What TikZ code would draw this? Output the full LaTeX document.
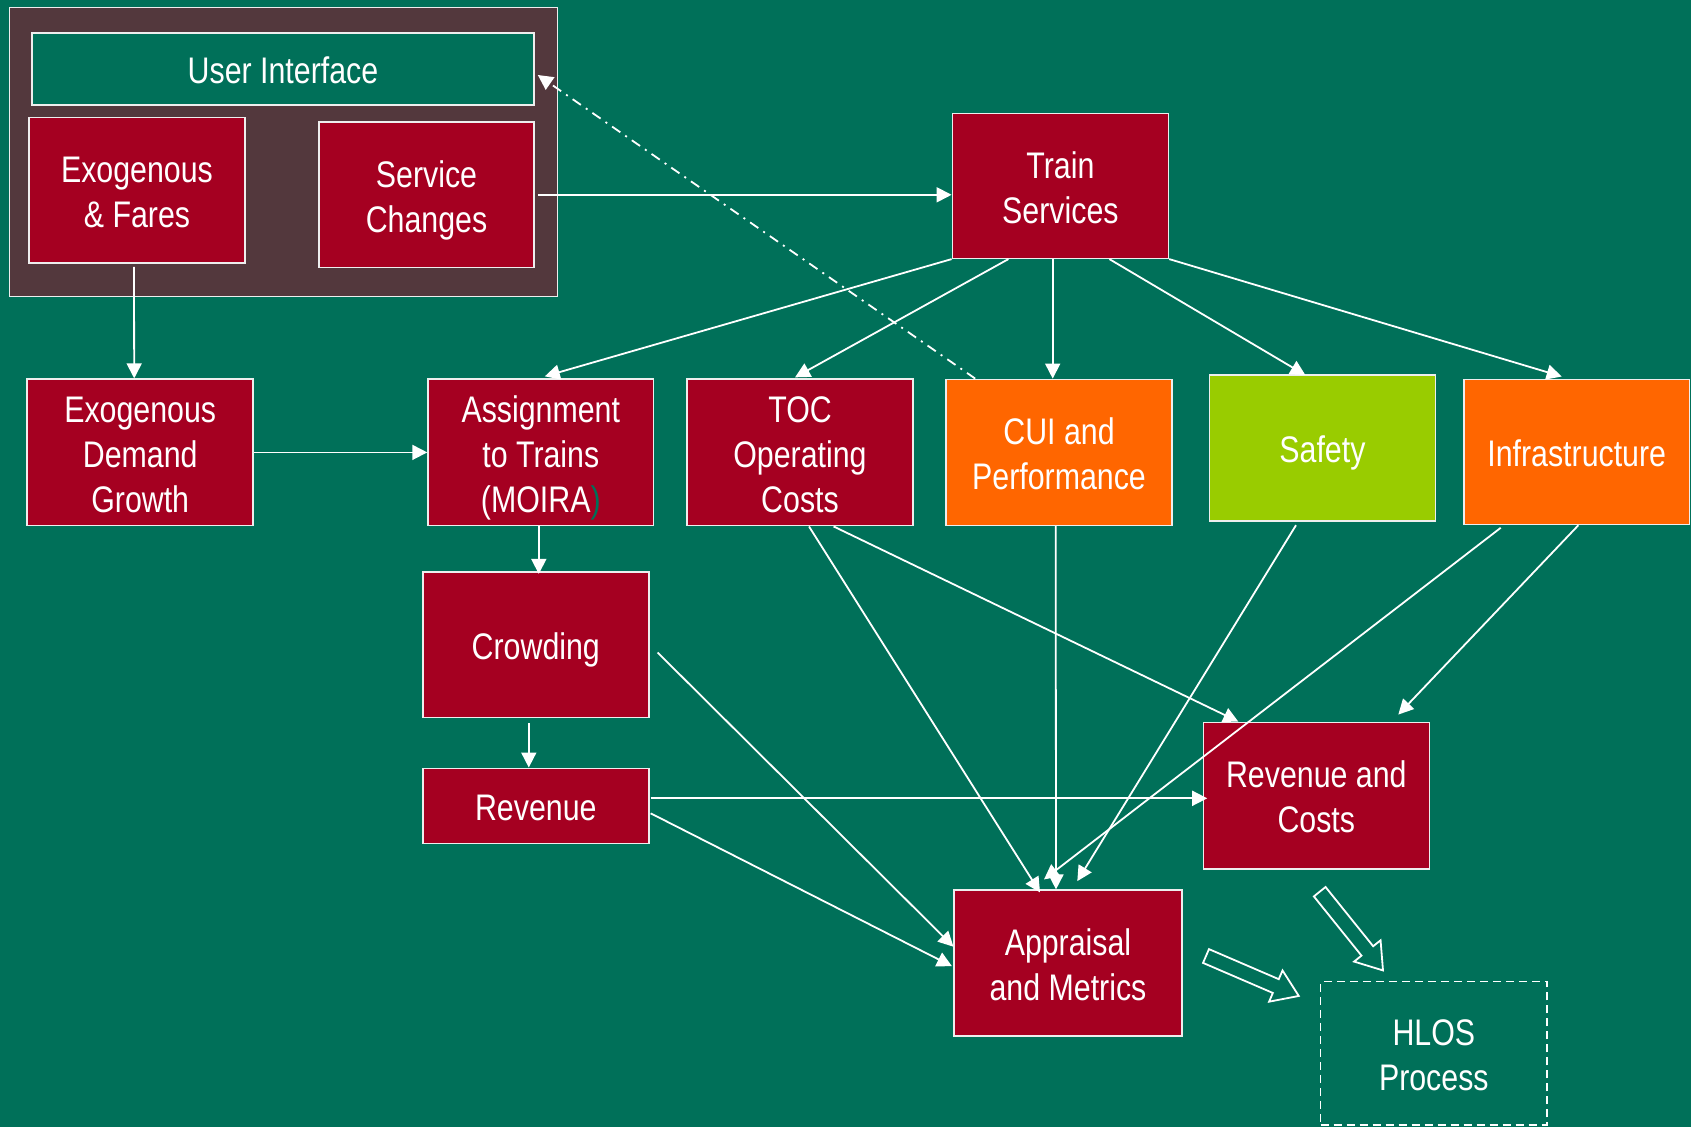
\documentclass[tikz,border=0pt]{standalone}
\usepackage{fontspec}
\setmainfont{Liberation Sans}[FakeStretch=0.82]
\usetikzlibrary{arrows.meta,calc}
\definecolor{bg}{RGB}{0,112,89}
\definecolor{boxred}{RGB}{165,0,33}
\definecolor{panel}{RGB}{83,56,61}
\definecolor{orangebox}{RGB}{255,102,0}
\definecolor{greenbox}{RGB}{153,204,0}
\definecolor{edge}{RGB}{238,238,238}
\newcommand{\bt}[1]{\raisebox{0pt}[\dimexpr\height+11.5pt\relax][\depth]{\begin{tabular}{@{}c@{}}#1\end{tabular}}}
\begin{document}
\begin{tikzpicture}[x=1pt,y=-1pt,
  blk/.style={draw=edge, line width=1.6pt, inner sep=0pt, text=white,
    font=\fontsize{37}{45}\selectfont, minimum width=226pt, minimum height=146pt},
  redbox/.style={blk, fill=boxred},
  conn/.style={draw=white, line width=1.8pt, -{Triangle[length=15pt,width=15pt]}},
  blockarrow/.style={draw=white, line width=1.8pt, line join=miter}
]
\useasboundingbox[fill=bg] (0,0) rectangle (1691,1127);

% outer panel
\node[draw=edge, line width=1.6pt, fill=panel, minimum width=548pt, minimum height=289pt, inner sep=0pt] (panel) at (283.4,152) {};

\node[blk, fill=bg, minimum width=502pt, minimum height=72pt] (UI) at (283,69) {\bt{User Interface}};
\node[redbox, minimum width=216pt, minimum height=145.5pt] (EF) at (137,190.3) {\bt{Exogenous\\\& Fares}};
\node[redbox, minimum width=215pt, minimum height=145.5pt] (SC) at (426.5,194.8) {\bt{Service\\Changes}};
\node[redbox, minimum width=216pt, minimum height=145pt] (TS) at (1060.4,185.8) {\bt{Train\\Services}};

\node[redbox] (ED) at (140.2,452.4) {\bt{Exogenous\\Demand\\Growth}};
\node[redbox, minimum width=225.5pt] (Asg) at (540.8,452.4) {\bt{Assignment\\to Trains\\(MOIRA\textcolor{bg}{)}}};
\node[redbox] (TOC) at (800,452.4) {\bt{TOC\\Operating\\Costs}};
\node[blk, fill=orangebox] (CUI) at (1059,452.4) {\bt{CUI and\\Performance}};
\node[blk, fill=greenbox] (Saf) at (1322.4,447.9) {\bt{Safety}};
\node[blk, fill=orangebox, minimum width=225.3pt, minimum height=145.2pt] (Inf) at (1576.7,451.9) {\bt{Infrastructure}};

\node[redbox, minimum height=145.6pt] (Crowd) at (535.8,644.5) {\bt{Crowding}};
\node[redbox, minimum height=75pt] (Rev) at (535.8,805.8) {\bt{Revenue}};
\node[redbox, minimum height=146.7pt] (RC) at (1316.3,795.7) {\bt{Revenue and\\Costs}};
\node[redbox, minimum width=227.5pt] (Appr) at (1068,963.2) {\bt{Appraisal\\and Metrics}};
\node[blk, draw=white, dash pattern=on 8pt off 5pt, minimum width=226.3pt, minimum height=143.3pt] (HLOS) at (1433.8,1053.3) {\bt{HLOS\\Process}};

% connectors
\draw[conn] ($(EF.south)+(-3,3)$) -- ($(ED.north)+(-6,0)$);
\draw[conn] ($(SC.east)+(3,0)$) -- (SC.east -| TS.west);
\draw[conn] (ED.east) -- (Asg.west);
\draw[conn] (TS.south west) -- ($(Asg.north)+(4,-2)$);
\draw[conn] ($(TS.south)+(-52,0)$) -- ($(TOC.north)+(-5,-1)$);
\draw[conn] ($(TS.south)+(-7.7,0)$) -- ($(CUI.north)+(-6.3,0)$);
\draw[conn] ($(TS.south)+(49,0)$) -- ($(Saf.north)+(-17,1)$);
\draw[conn] (TS.south east) -- ($(Inf.north)+(-15,-2)$);
\draw[conn, dash pattern=on 10pt off 6pt on 2pt off 6pt] ($(CUI.north west)+(30,0)$) -- ($(UI.east)+(3,6)$);

\draw[conn] ($(Asg.south)+(-2,0)$) -- ($(Crowd.north)+(3,3)$);
\draw[conn] ($(Crowd.south)+(-7,5)$) -- ($(Rev.north)+(-7,0)$);
\draw[conn] ($(Crowd.east)+(8,8)$) -- ($(Appr.west)+(0,-16.5)$);
\draw[conn] ($(Rev.east)+(1,-7.5)$) -- ($(RC.west)+(4.7,2.6)$);
\draw[conn] ($(Rev.east)+(1,7.5)$) -- ($(Appr.west)+(-1.5,3)$);

\draw[conn] ($(TOC.south)+(9,0)$) -- ($(Appr.north)+(-28,3)$);
\draw[conn] ($(TOC.south)+(33.6,0)$) -- ($(RC.north)+(-78,0)$);
\draw[conn] ($(CUI.south)+(-3.3,0)$) -- ($(Appr.north)+(-12,0)$);
\draw[conn] ($(Saf.south)+(-26.4,3.5)$) -- ($(Appr.north)+(9.3,-8.3)$);
\draw[conn] ($(Inf.south)+(-76,2.5)$) -- ($(Appr.north)+(-24,-10)$);
\draw[conn] ($(Inf.south)+(1.6,0)$) -- ($(RC.north)+(82,-7)$);

% block arrows towards HLOS
\begin{scope}[shift={(1206,956)}, rotate=-23.3]
\draw[blockarrow] (0,-7.5) -- (76,-7.5) -- (76,-17) -- (101,0) -- (76,17) -- (76,7.5) -- (0,7.5) -- cycle;
\end{scope}
\begin{scope}[shift={(1319.7,891.7)}, rotate=-51.2]
\draw[blockarrow] (0,-7.5) -- (76,-7.5) -- (76,-17) -- (101,0) -- (76,17) -- (76,7.5) -- (0,7.5) -- cycle;
\end{scope}
\end{tikzpicture}
\end{document}
